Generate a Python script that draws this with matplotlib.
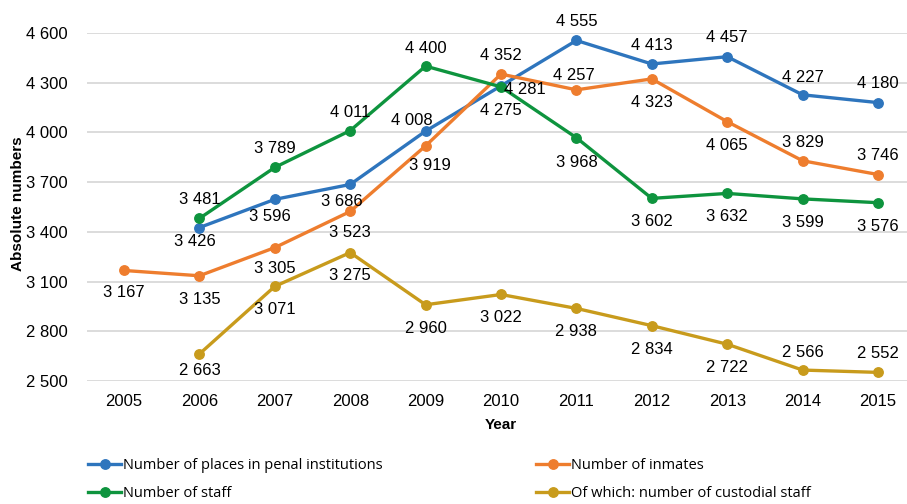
import matplotlib
matplotlib.use("Agg")
import matplotlib.pyplot as plt
from matplotlib.lines import Line2D

years = [2005, 2006, 2007, 2008, 2009, 2010, 2011, 2012, 2013, 2014, 2015]
places = [None, 3426, 3596, 3686, 4008, 4281, 4555, 4413, 4457, 4227, 4180]
inmates = [3167, 3135, 3305, 3523, 3919, 4352, 4257, 4323, 4065, 3829, 3746]
staff = [None, 3481, 3789, 4011, 4400, 4275, 3968, 3602, 3632, 3599, 3576]
custodial = [None, 2663, 3071, 3275, 2960, 3022, 2938, 2834, 2722, 2566, 2552]
yticks = [2500, 2800, 3100, 3400, 3700, 4000, 4300, 4600]

names = ["Number of places in penal institutions", "Number of inmates",
         "Number of staff", "Of which: number of custodial staff"]
colors = ["#2E75BD", "#EE7D2E", "#0E943E", "#C89B1C"]

# label offsets in pixels (dx, dy downwards) -- styling only
off_places = [None, (-5, 13), (-5, 16), (-8, 16), (-14, -12), (24, 2), (0, -20), (0, -20), (0, -21), (0, -19), (0, -20)]
off_inmates = [(0, 21), (0, 22), (0, 20), (0, 20), (4, 18), (0, -20), (-3, -16), (0, 22), (0, 22), (0, -20), (0, -20)]
off_staff = [None, (0, -20), (0, -20), (0, -19), (0, -19), (0, 22), (0, 23), (0, 22), (0, 22), (0, 22), (0, 22)]
off_cust = [None, (0, 15), (0, 22), (0, 22), (0, 22), (0, 22), (0, 22), (0, 22), (0, 22), (0, -19), (0, -20)]

fmt = lambda v: f"{v:,}".replace(",", " ")

fig = plt.figure(figsize=(9.07, 5.04), dpi=100)
ax = fig.add_axes([87 / 907, 1 - 381 / 504, 820 / 907, 348 / 504])

font = "Liberation Sans"
fs = 12
series = [(places, off_places, 0), (inmates, off_inmates, 1), (staff, off_staff, 2), (custodial, off_cust, 3)]
for vals, offs, ci in series:
    xs = [y for y, v in zip(years, vals) if v is not None]
    vs = [v for v in vals if v is not None]
    ax.plot(xs, vs, color=colors[ci], lw=2.4, marker="o", ms=6.8, clip_on=False, zorder=3,
            solid_joinstyle="round")
    for y, v, o in zip(years, vals, offs):
        if v is None:
            continue
        ax.annotate(fmt(v), (y, v), xytext=(o[0] * 0.72, -o[1] * 0.72 - 1.0), textcoords="offset points",
                    ha="center", va="center", fontsize=fs, family=font, color="#000000", zorder=4)

ax.set_xlim(2005 - 37 / 75.4, 2005 + 783 / 75.4)
ax.set_ylim(2500, 4600)
ax.set_yticks(yticks)
ax.set_yticklabels([fmt(v) for v in yticks], family=font, fontsize=fs)
ax.set_xticks(years)
ax.set_xticklabels([str(y) for y in years], family=font, fontsize=fs)
ax.tick_params(axis="both", length=0)
ax.tick_params(axis="y", pad=14)
ax.tick_params(axis="x", pad=9)
ax.grid(axis="y", color="#D9D9D9", lw=1.3)
ax.set_axisbelow(True)
for s in ax.spines.values():
    s.set_visible(False)

fig.text(501 / 907, 1 - 425 / 504, "Year", ha="center", va="center", fontsize=11,
         fontweight="bold", family=font)
fig.text(18 / 907, 1 - 204 / 504, "Absolute numbers", ha="center", va="center", rotation=90,
         fontsize=11, fontweight="bold", family=font)

def handle(c):
    return Line2D([], [], color=c, lw=2.4, marker="o", ms=6.8)

leg_font = {"family": "Open Sans", "size": 10.5}
for idx, x0 in [((0, 2), 91), ((1, 3), 539)]:
    lg = fig.legend([handle(colors[i]) for i in idx], [names[i] for i in idx],
                    loc="upper left", bbox_to_anchor=(x0 / 907 - 0.0035, 1 - 458 / 504),
                    frameon=False, prop=leg_font, handlelength=2.3, handletextpad=0.1,
                    labelspacing=0.9, borderaxespad=0, borderpad=0)

fig.savefig("out.png", dpi=100)
